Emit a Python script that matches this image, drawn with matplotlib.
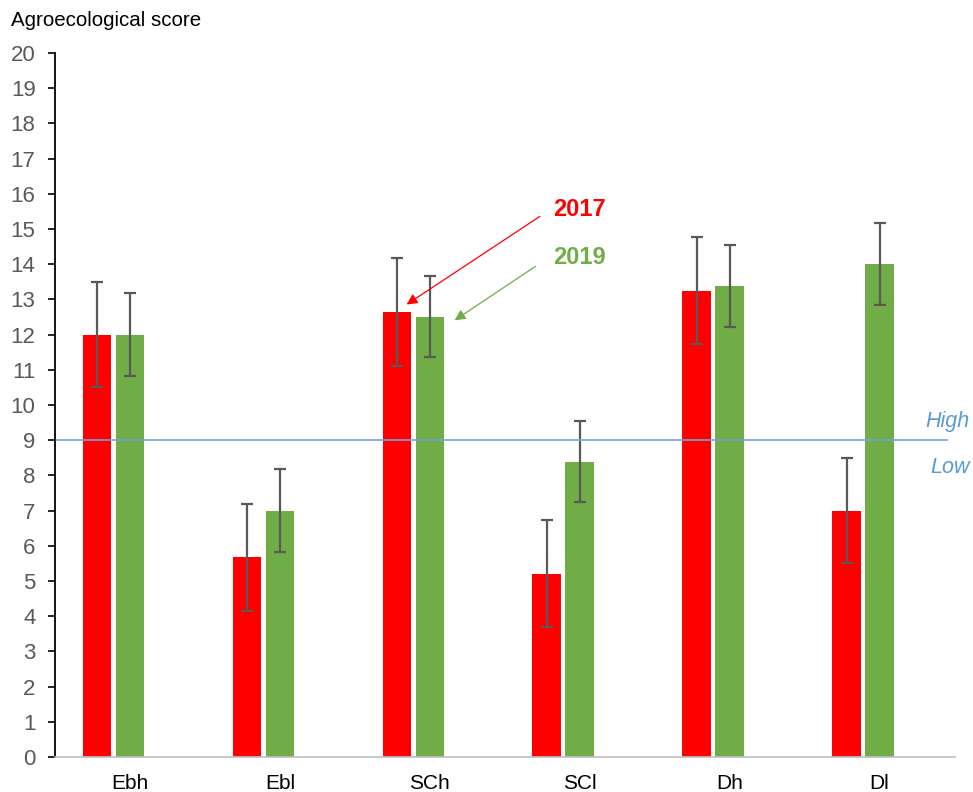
import numpy as np
import matplotlib.pyplot as plt

plt.rcParams['font.family'] = ['Liberation Sans', 'DejaVu Sans']

# data
categories = ['Ebh', 'Ebl', 'SCh', 'SCl', 'Dh', 'Dl']
score_2017 = [12.0, 5.67, 12.65, 5.21, 13.25, 7.0]
err_2017 = [1.5, 1.52, 1.53, 1.52, 1.52, 1.5]
score_2019 = [12.0, 7.0, 12.5, 8.39, 13.37, 14.0]
err_2019 = [1.18, 1.17, 1.15, 1.15, 1.17, 1.16]
threshold = 9

red = '#FF0000'
green = '#70AD47'
grey = '#595959'

fig = plt.figure(figsize=(9.73, 7.92), dpi=100)
ax = fig.add_axes([0.0565, 0.0442, 0.9245, 0.889])

x = np.arange(len(categories))
w = 0.19
err_kw = dict(ecolor=grey, elinewidth=1.6, capsize=4.5, capthick=1.6)
ax.bar(x - 0.22, score_2017, w, color=red, yerr=err_2017, error_kw=err_kw)
ax.bar(x, score_2019, w, color=green, yerr=err_2019, error_kw=err_kw)

# high / low threshold
ax.plot([-0.5, 5.45], [threshold, threshold], color='#6FA3DC', lw=1.2)
ax.text(5.6, 9.38, 'High', color='#5B9BD5', style='italic',
        fontsize=15.5, ha='right', va='baseline', clip_on=False)
ax.text(5.6, 8.07, 'Low', color='#5B9BD5', style='italic',
        fontsize=15.5, ha='right', va='baseline', clip_on=False)

# year labels with arrows
ax.text(2.82, 15.54, '2017', color=red, fontsize=17, fontweight='bold', va='center')
ax.text(2.82, 14.18, '2019', color=green, fontsize=17, fontweight='bold', va='center')
ax.annotate('', xy=(1.83, 12.81), xytext=(2.75, 15.4),
            arrowprops=dict(arrowstyle='-|>', color=red, lw=0.9, mutation_scale=16))
ax.annotate('', xy=(2.15, 12.36), xytext=(2.72, 13.98),
            arrowprops=dict(arrowstyle='-|>', color=green, lw=0.9, mutation_scale=16))

ax.set_xlim(-0.5, 5.5)
ax.set_ylim(0, 20)
ax.set_yticks(range(0, 21))
ax.set_xticks(x)
ax.set_xticklabels(categories, fontsize=15)
ax.tick_params(axis='y', labelsize=16, labelcolor=grey, length=5, width=1.2,
               direction='out', pad=9)
ax.tick_params(axis='x', length=0, pad=12)

for s in ['top', 'right']:
    ax.spines[s].set_visible(False)
ax.spines['left'].set_linewidth(1.3)
ax.spines['left'].set_color('black')
ax.spines['bottom'].set_color('#BFBFBF')
ax.spines['bottom'].set_linewidth(1.2)

fig.text(0.011, 0.974, 'Agroecological score', fontsize=14.8, va='center', ha='left')

fig.savefig('out.png', dpi=100)
